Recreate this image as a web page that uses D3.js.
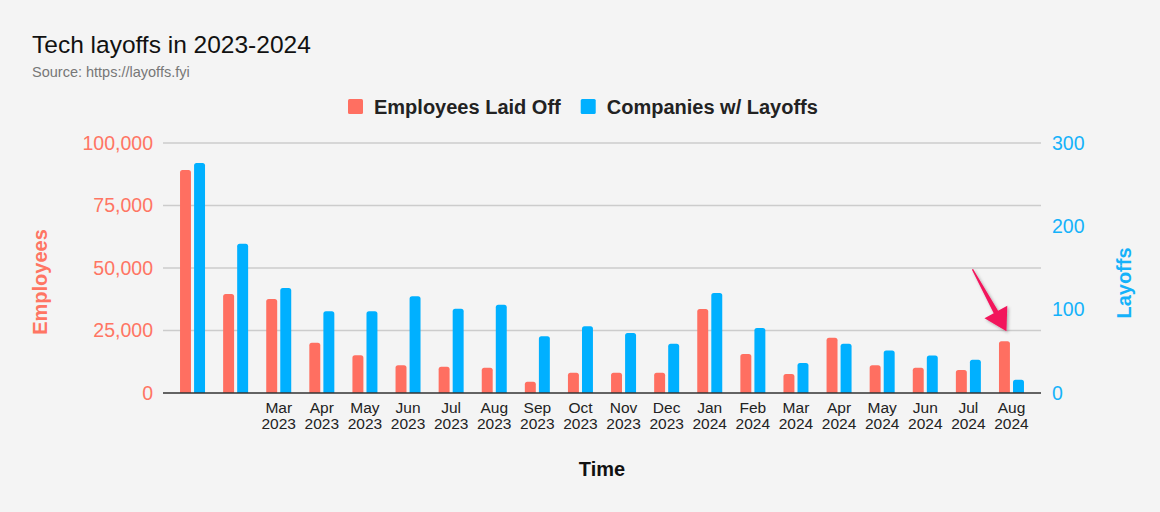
<!DOCTYPE html>
<html><head><meta charset="utf-8">
<script src="https://cdn.jsdelivr.net/npm/d3@7"></script>
<style>
html,body{margin:0;padding:0;background:#f4f4f4;}
svg{display:block;font-family:"Liberation Sans",Arial,sans-serif;}
</style></head>
<body>
<svg id="c" width="1160" height="512"></svg>
<script>
const categories = ["Jan 2023","Feb 2023","Mar 2023","Apr 2023","May 2023","Jun 2023","Jul 2023","Aug 2023","Sep 2023","Oct 2023","Nov 2023","Dec 2023","Jan 2024","Feb 2024","Mar 2024","Apr 2024","May 2024","Jun 2024","Jul 2024","Aug 2024"];
const tickLabels = [["",""],["",""],["Mar","2023"],["Apr","2023"],["May","2023"],["Jun","2023"],["Jul","2023"],["Aug","2023"],["Sep","2023"],["Oct","2023"],["Nov","2023"],["Dec","2023"],["Jan","2024"],["Feb","2024"],["Mar","2024"],["Apr","2024"],["May","2024"],["Jun","2024"],["Jul","2024"],["Aug","2024"]];
const employeesLaidOff = [89200,39600,37600,20100,15100,11100,10500,10100,4500,8100,8100,8100,33600,15600,7600,22100,11100,10100,9200,20700];
const companiesWithLayoffs = [276,179,126,98,98,116,101,106,68,80,72,59,120,78,36,59,51,45,40,16];
const leftTicks = [0,25000,50000,75000,100000];
const rightTicks = [0,100,200,300];
const seriesNames = ["Employees Laid Off","Companies w/ Layoffs"];
const colors = ["#ff6f61","#00b0ff"];

const svg = d3.select("#c");
const L = 163, R = 1041, T = 143, B = 393;

const x = d3.scaleBand().domain(categories).range([L,R]).paddingInner(0.42).paddingOuter(0.395);
const xs = d3.scaleBand().domain([0,1]).range([0,x.bandwidth()]).paddingInner(0.22);
const yL = d3.scaleLinear().domain([0,100000]).range([B,T]);
const yR = d3.scaleLinear().domain([0,300]).range([B,T]);

// title
svg.append("text").attr("x",32).attr("y",53).attr("font-size",24.5).attr("fill","#111").text("Tech layoffs in 2023-2024");
svg.append("text").attr("x",32).attr("y",77).attr("font-size",14.5).attr("fill","#777").text("Source: https://layoffs.fyi");

// legend
const lg = svg.append("g");
let lx = 348;
seriesNames.forEach((n,i)=>{
  lg.append("rect").attr("x",lx).attr("y",99).attr("width",15).attr("height",15).attr("rx",1.5).attr("fill",colors[i]);
  const t = lg.append("text").attr("x",lx+26).attr("y",114).attr("font-size",20).attr("font-weight","bold").attr("fill","#222").text(n);
  lx += 26 + t.node().getComputedTextLength() + 20;
});

// gridlines
svg.append("g").selectAll("line").data(leftTicks.slice(1)).join("line")
  .attr("x1",L).attr("x2",R).attr("y1",d=>yL(d)).attr("y2",d=>yL(d))
  .attr("stroke","#cccccc").attr("stroke-width",1.5);

// left axis
const la = svg.append("g").attr("transform",`translate(${L},0)`)
  .call(d3.axisLeft(yL).tickValues(leftTicks).tickFormat(d3.format(",")).tickSize(0).tickPadding(10));
la.select(".domain").remove();
la.selectAll("text").attr("fill","#ff7563").attr("font-size",19.5).attr("font-family","Liberation Sans, Arial, sans-serif");

// right axis
const ra = svg.append("g").attr("transform",`translate(${R},0)`)
  .call(d3.axisRight(yR).tickValues(rightTicks).tickSize(0).tickPadding(11));
ra.select(".domain").remove();
ra.selectAll("text").attr("fill","#14b2fa").attr("font-size",19.5).attr("font-family","Liberation Sans, Arial, sans-serif");

// axis titles
svg.append("text").attr("transform","translate(47,282) rotate(-90)").attr("text-anchor","middle")
  .attr("font-size",20).attr("font-weight","bold").attr("fill","#ff7563").text("Employees");
svg.append("text").attr("transform","translate(1131,283) rotate(-90)").attr("text-anchor","middle")
  .attr("font-size",20).attr("font-weight","bold").attr("fill","#14b2fa").text("Layoffs");

// bars
function barPath(x0,w,y0,yb,r){
  const h = yb-y0; r = Math.min(r,h,w/2);
  return `M${x0},${yb}V${y0+r}Q${x0},${y0} ${x0+r},${y0}H${x0+w-r}Q${x0+w},${y0} ${x0+w},${y0+r}V${yb}Z`;
}
const g = svg.append("g");
g.selectAll("path.e").data(categories).join("path").attr("class","e")
  .attr("d",(c,i)=>barPath(x(c)+xs(0),xs.bandwidth(),yL(employeesLaidOff[i]),B,2.5))
  .attr("fill",colors[0]);
g.selectAll("path.c").data(categories).join("path").attr("class","c")
  .attr("d",(c,i)=>barPath(x(c)+xs(1),xs.bandwidth(),yR(companiesWithLayoffs[i]),B,2.5))
  .attr("fill",colors[1]);

// baseline
svg.append("line").attr("x1",L).attr("x2",R).attr("y1",B).attr("y2",B).attr("stroke","#333").attr("stroke-width",1.5);

// x labels
const xl = svg.append("g");
categories.forEach((c,i)=>{
  const cx = x(c)+x.bandwidth()/2;
  const t = xl.append("text").attr("x",cx).attr("y",413).attr("text-anchor","middle").attr("font-size",15.5).attr("fill","#222");
  t.append("tspan").attr("x",cx).attr("dy",0).text(tickLabels[i][0]);
  t.append("tspan").attr("x",cx).attr("dy",16).text(tickLabels[i][1]);
});
svg.append("text").attr("x",602).attr("y",476).attr("text-anchor","middle").attr("font-size",20).attr("font-weight","bold").attr("fill","#111").text("Time");

// arrow annotation
const defs = svg.append("defs");
const f = defs.append("filter").attr("id","sh").attr("x","-50%").attr("y","-50%").attr("width","200%").attr("height","200%");
f.append("feDropShadow").attr("dx",1.5).attr("dy",1.5).attr("stdDeviation",1.5).attr("flood-color","#000").attr("flood-opacity",0.3);
const tipX = x(categories[19])+x.bandwidth()/2-5, tipY = yL(employeesLaidOff[19])-10;
const tail = [tipX-34, tipY-62];
const ang = Math.atan2(tipY-tail[1], tipX-tail[0]);
const perp = ang+Math.PI/2;
const headLen = 22, headW = 13, shaftW = 2.5;
const bx = tipX-headLen*Math.cos(ang), by = tipY-headLen*Math.sin(ang);
const pts = [
  [tail[0]-shaftW*0.3*Math.cos(perp), tail[1]-shaftW*0.3*Math.sin(perp)],
  [tail[0]+shaftW*0.3*Math.cos(perp), tail[1]+shaftW*0.3*Math.sin(perp)],
  [bx+shaftW*Math.cos(perp), by+shaftW*Math.sin(perp)],
  [bx+headW*Math.cos(perp), by+headW*Math.sin(perp)],
  [tipX,tipY],
  [bx-headW*Math.cos(perp), by-headW*Math.sin(perp)],
  [bx-shaftW*Math.cos(perp), by-shaftW*Math.sin(perp)]
];
svg.append("path").attr("d","M"+pts.map(p=>p.join(",")).join("L")+"Z").attr("fill","#f2175c").attr("filter","url(#sh)");
</script>
</body></html>
